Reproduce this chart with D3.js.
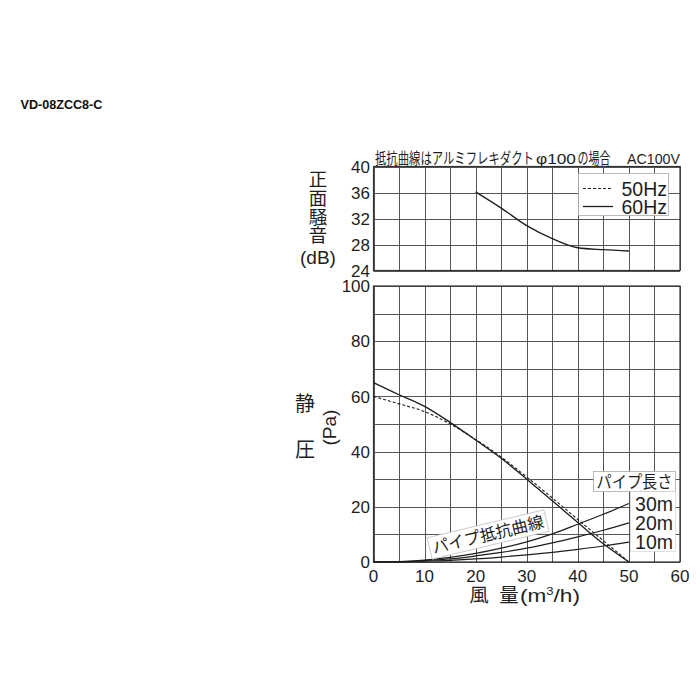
<!DOCTYPE html>
<html><head><meta charset="utf-8">
<script src="https://cdn.jsdelivr.net/npm/d3@7"></script>
<style>body{margin:0;background:#fff}svg{display:block}</style>
</head><body>
<svg id="c" width="700" height="700"></svg>
<script>
// ---------- data ----------
const modelName = "VD-08ZCC8-C";
const headerNoteA = "抵抗曲線はアルミフレキダクト";
const headerNoteB = "φ100";
const headerNoteC = "の場合";
const voltageNote = "AC100V";
const airflowTicks = [0, 10, 20, 30, 40, 50, 60];
const noiseTicks = [24, 28, 32, 36, 40];
const pressureTicks = [0, 20, 40, 60, 80, 100];
const legendLabels = ["50Hz", "60Hz"];
// noise (dB) vs airflow, 60Hz
const noise60Hz = [[20, 36.1], [25, 33.6], [30, 30.9], [35, 28.9], [40, 27.5], [45, 27.2], [50, 27.0]];
// static pressure (Pa) vs airflow (m3/h)
const pressure60Hz = [[0, 65], [5, 60.6], [10, 56.4], [15, 50.6], [20, 44.2], [25, 37.6], [30, 30.0], [35, 22.2], [40, 14.3], [45, 6.6], [50, 0]];
const pressure50Hz = [[0, 60], [5, 57.3], [10, 54.5], [15, 50.0], [20, 44.4], [25, 38.0], [30, 30.8], [35, 23.2], [40, 15.4], [45, 7.7], [50, 0]];
// pipe resistance curves
const pipe30m = [[0, 0], [5, 0.15], [10, 0.7], [15, 1.7], [20, 3.1], [25, 5.0], [30, 7.3], [35, 10.2], [40, 13.7], [45, 17.3], [50, 21.2]];
const pipe20m = [[0, 0], [5, 0.1], [10, 0.5], [15, 1.1], [20, 2.2], [25, 3.5], [30, 5.0], [35, 6.9], [40, 9.1], [45, 11.5], [50, 14.2]];
const pipe10m = [[0, 0], [5, 0.05], [10, 0.3], [15, 0.6], [20, 1.1], [25, 1.8], [30, 2.6], [35, 3.5], [40, 4.6], [45, 5.8], [50, 7.2]];
const pipeLabels = ["30m", "20m", "10m"];
const pipeTitle = "パイプ長さ";
const pipeCurveTitle = "パイプ抵抗曲線";
const noiseTitle = "正面騒音";

// ---------- layout ----------
const svg = d3.select("#c");
const L = 373.5, R = 680;
const x = d3.scaleLinear().domain([0, 60]).range([L, R]);
const yN = d3.scaleLinear().domain([24, 40]).range([270.5, 166.5]);
const yP = d3.scaleLinear().domain([0, 100]).range([562, 286]);
const ink = "#1e1e1e";
const gridC = "#555";
const numFont = "'Liberation Sans', Arial, sans-serif";
const jpFont = "'Noto Sans CJK JP', 'Noto Sans', sans-serif";

svg.append("text").attr("x", 20.5).attr("y", 109).attr("font-family", numFont)
  .attr("font-weight", "bold").attr("font-size", 12.6).attr("fill", "#111").text(modelName);

// text squeezed/stretched horizontally to a given width (anchor: start)
function fitText(parent, str, x0, y0, len, font, size, extra) {
  const t = parent.append("text").attr("x", 0).attr("y", 0).attr("font-family", font)
    .attr("font-size", size).attr("fill", ink).text(str);
  if (extra) extra(t);
  const nat = t.node().getComputedTextLength();
  t.attr("transform", `translate(${x0},${y0}) scale(${len / nat},1)`);
  return t;
}
fitText(svg, headerNoteA, 375, 164, 159, jpFont, 15.5);
fitText(svg, headerNoteB, 536, 164, 40, numFont, 15.5);
fitText(svg, headerNoteC, 577.5, 164, 33, jpFont, 15.5);
fitText(svg, voltageNote, 627, 164, 53, numFont, 15.5);

function grid(y, yTicksFine) {
  const g = svg.append("g").attr("stroke", gridC).attr("stroke-width", 1).attr("fill", "none");
  const [y0, y1] = y.range();
  x.ticks(12).forEach(v => g.append("line").attr("x1", Math.round(x(v)) + 0.5).attr("x2", Math.round(x(v)) + 0.5).attr("y1", y1).attr("y2", y0));
  yTicksFine.forEach(v => g.append("line").attr("x1", L).attr("x2", R).attr("y1", Math.round(y(v)) + 0.5).attr("y2", Math.round(y(v)) + 0.5));
  svg.append("rect").attr("x", L).attr("y", y1).attr("width", R - L).attr("height", y0 - y1)
    .attr("fill", "none").attr("stroke", "#333").attr("stroke-width", 1.2);
}
grid(yN, noiseTicks);
grid(yP, yP.ticks(10));

// tick labels
const tickG = svg.append("g").attr("font-family", numFont).attr("font-size", 17).attr("fill", ink);
noiseTicks.forEach(v => tickG.append("text").attr("x", 370).attr("y", yN(v)).attr("dy", "0.36em").attr("text-anchor", "end").text(v));
pressureTicks.forEach(v => tickG.append("text").attr("x", 370).attr("y", yP(v)).attr("dy", "0.36em").attr("text-anchor", "end").text(v));
airflowTicks.forEach(v => tickG.append("text").attr("x", x(v)).attr("y", 582).attr("text-anchor", "middle").text(v));

// axis titles
svg.append("text").attr("x", 318).attr("y", 170).attr("writing-mode", "vertical-rl")
  .attr("font-family", jpFont).attr("font-size", 18.5).attr("letter-spacing", 0.2)
  .attr("fill", ink).text(noiseTitle);
svg.append("text").attr("x", 318).attr("y", 257).attr("dy", "0.36em").attr("text-anchor", "middle")
  .attr("font-family", numFont).attr("font-size", 19).attr("fill", ink).text("(dB)");
svg.append("text").attr("x", 305).attr("y", 403).attr("dy", "0.38em").attr("text-anchor", "middle")
  .attr("font-family", jpFont).attr("font-size", 20).attr("fill", ink).text("静");
svg.append("text").attr("x", 305).attr("y", 449).attr("dy", "0.38em").attr("text-anchor", "middle")
  .attr("font-family", jpFont).attr("font-size", 20).attr("fill", ink).text("圧");
svg.append("text").attr("transform", "translate(329,427.5) rotate(-90)").attr("dy", "0.36em")
  .attr("text-anchor", "middle").attr("font-family", numFont).attr("font-size", 19).attr("fill", ink).text("(Pa)");
// x title: 風 量(m³/h)
svg.append("text").attr("x", 479).attr("y", 602).attr("text-anchor", "middle").attr("font-family", jpFont)
  .attr("font-size", 19.5).attr("fill", ink).text("風");
svg.append("text").attr("x", 509).attr("y", 602).attr("text-anchor", "middle").attr("font-family", jpFont)
  .attr("font-size", 19.5).attr("fill", ink).text("量");
fitText(svg, "", 520, 602, 60, numFont, 19, t => {
  t.append("tspan").text("(m");
  t.append("tspan").attr("dy", -7).attr("font-size", 11).text("3");
  t.append("tspan").attr("dy", 7).text("/h)");
});

// curves
const lineN = d3.line().x(d => x(d[0])).y(d => yN(d[1])).curve(d3.curveMonotoneX);
const lineP = d3.line().x(d => x(d[0])).y(d => yP(d[1])).curve(d3.curveMonotoneX);
svg.append("path").attr("d", lineN(noise60Hz)).attr("fill", "none").attr("stroke", ink).attr("stroke-width", 1.3);
[pipe30m, pipe20m, pipe10m].forEach(p => svg.append("path").attr("d", lineP(p)).attr("fill", "none")
  .attr("stroke", ink).attr("stroke-width", 1.2));
svg.append("path").attr("d", lineP(pressure50Hz)).attr("fill", "none").attr("stroke", ink)
  .attr("stroke-width", 1.1).attr("stroke-dasharray", "3,2");
svg.append("path").attr("d", lineP(pressure60Hz)).attr("fill", "none").attr("stroke", ink).attr("stroke-width", 1.3);

// legend
const lg = svg.append("g");
lg.append("rect").attr("x", 578.5).attr("y", 173.5).attr("width", 90).attr("height", 42)
  .attr("fill", "#fff").attr("stroke", "#aaa").attr("stroke-width", 0.8);
["3,2", null].forEach((dash, i) => {
  const yy = 188.5 + i * 18;
  const ln = lg.append("line").attr("x1", 583).attr("x2", 613).attr("y1", yy).attr("y2", yy)
    .attr("stroke", ink).attr("stroke-width", i ? 1.3 : 1.1);
  if (dash) ln.attr("stroke-dasharray", dash);
  lg.append("text").attr("x", 667).attr("y", yy).attr("dy", "0.36em").attr("text-anchor", "end")
    .attr("font-family", numFont).attr("font-size", 19.5).attr("fill", ink).text(legendLabels[i]);
});

// pipe length labels
svg.append("rect").attr("x", 593.5).attr("y", 471.5).attr("width", 82).attr("height", 20)
  .attr("fill", "#fff").attr("stroke", "#aaa").attr("stroke-width", 0.8);
fitText(svg, pipeTitle, 596.5, 487.5, 76, jpFont, 16.5);
svg.append("rect").attr("x", 630.5).attr("y", 491.5).attr("width", 45).attr("height", 60)
  .attr("fill", "#fff").attr("stroke", "#ccc").attr("stroke-width", 0.6);
[pipe30m, pipe20m, pipe10m].forEach((p, i) => {
  const last = p[p.length - 1];
  svg.append("text").attr("x", 673).attr("y", yP(last[1])).attr("dy", "0.36em").attr("text-anchor", "end")
    .attr("font-family", numFont).attr("font-size", 19.5).attr("fill", ink).text(pipeLabels[i]);
});

// rotated pipe curve label
const pg = svg.append("g").attr("transform", "translate(488,534.5) rotate(-13.5)");
pg.append("rect").attr("x", -60).attr("y", -11).attr("width", 120).attr("height", 22)
  .attr("fill", "#fff").attr("stroke", "#bbb").attr("stroke-width", 0.7);
fitText(pg, pipeCurveTitle, -57, 6, 114, jpFont, 16.5);
</script>
</body></html>
